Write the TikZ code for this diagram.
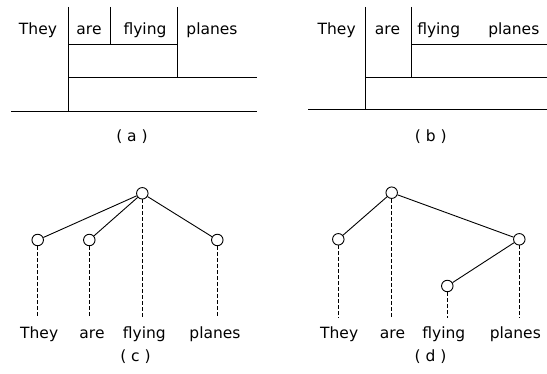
\documentclass[tikz,border=0pt]{standalone}
\usepackage{fontspec}
\setmainfont{DejaVu Sans}
\begin{document}
\begin{tikzpicture}[x=1pt,y=-1pt,
  every node/.style={font=\fontsize{15.5}{18}\selectfont, inner sep=0pt},
  word/.style={anchor=base},
  ln/.style={line width=0.9pt},
  dsh/.style={line width=0.9pt, dash pattern=on 4pt off 2pt},
  vtx/.style={circle, draw, line width=0.9pt, minimum size=11.5pt, inner sep=0pt}]
\useasboundingbox (0,0) rectangle (547,374);
% ---------- (a)
\node[word] (aThey) at (38,35) {They};
\node[word] (aare) at (89,35) {are};
\node[word] (afly) at (145,35) {flying};
\node[word] (apla) at (212,35) {planes};
\draw[ln] (68.3,7) -- (68.3,111);
\draw[ln] (110,7) -- (110,44);
\draw[ln] (177.3,7) -- (177.3,77);
\draw[ln] (68.3,44) -- (177.3,44);
\draw[ln] (68.3,77) -- (257,77);
\draw[ln] (11,111) -- (257,111);
\node[word] (alab) at (132,141.5) {( a )};
% ---------- (b)
\node[word] (bThey) at (336.7,35) {They};
\node[word] (bare) at (387.5,35) {are};
\node[word] (bfly) at (438.7,35) {flying};
\node[word] (bpla) at (513.8,35) {planes};
\draw[ln] (365,7) -- (365,109.5);
\draw[ln] (411.7,7) -- (411.7,77);
\draw[ln] (411.7,44) -- (547,44);
\draw[ln] (365,77) -- (547,77);
\draw[ln] (308,109.5) -- (547,109.5);
\node[word] (blab) at (430.8,141.5) {( b )};
% ---------- (c)
\node[vtx] (cr) at (142.3,193.3) {};
\node[vtx] (c1) at (37.7,240) {};
\node[vtx] (c2) at (89.3,240) {};
\node[vtx] (c4) at (217.3,240) {};
\coordinate (ce1) at (37.7,318);
\coordinate (ce2) at (89.3,318);
\coordinate (ce3) at (142.3,318);
\coordinate (ce4) at (217.3,318);
\draw[ln] (cr) -- (c1);
\draw[ln] (cr) -- (c2);
\draw[ln] (cr) -- (c4);
\draw[dsh] (c1.south) -- (ce1);
\draw[dsh] (c2.south) -- (ce2);
\draw[dsh] (cr.south) -- (ce3);
\draw[dsh] (c4.south) -- (ce4);
\node[word] (cThey) at (39.2,338.5) {They};
\node[word] (care) at (92,338.5) {are};
\node[word] (cfly) at (144.3,338.5) {flying};
\node[word] (cpla) at (215,338.5) {planes};
\node[word] (clab) at (135.5,361.5) {( c )};
% ---------- (d)
\node[vtx] (dr) at (391.7,192.7) {};
\node[vtx] (d1) at (338.3,239.3) {};
\node[vtx] (d4) at (519.3,239.3) {};
\node[vtx] (d3) at (447.3,286) {};
\coordinate (de1) at (338.3,318);
\coordinate (de2) at (391.7,318);
\coordinate (de3) at (447.3,318);
\coordinate (de4) at (519.3,318);
\draw[ln] (dr) -- (d1);
\draw[ln] (dr) -- (d4);
\draw[ln] (d4) -- (d3);
\draw[dsh] (d1.south) -- (de1);
\draw[dsh] (dr.south) -- (de2);
\draw[dsh] (d3.south) -- (de3);
\draw[dsh] (d4.south) -- (de4);
\node[word] (dThey) at (339.2,338.5) {They};
\node[word] (dare) at (392.5,338.5) {are};
\node[word] (dfly) at (443.8,338.5) {flying};
\node[word] (dpla) at (515.3,338.5) {planes};
\node[word] (dlab) at (430.5,361.5) {( d )};
\end{tikzpicture}
\end{document}
